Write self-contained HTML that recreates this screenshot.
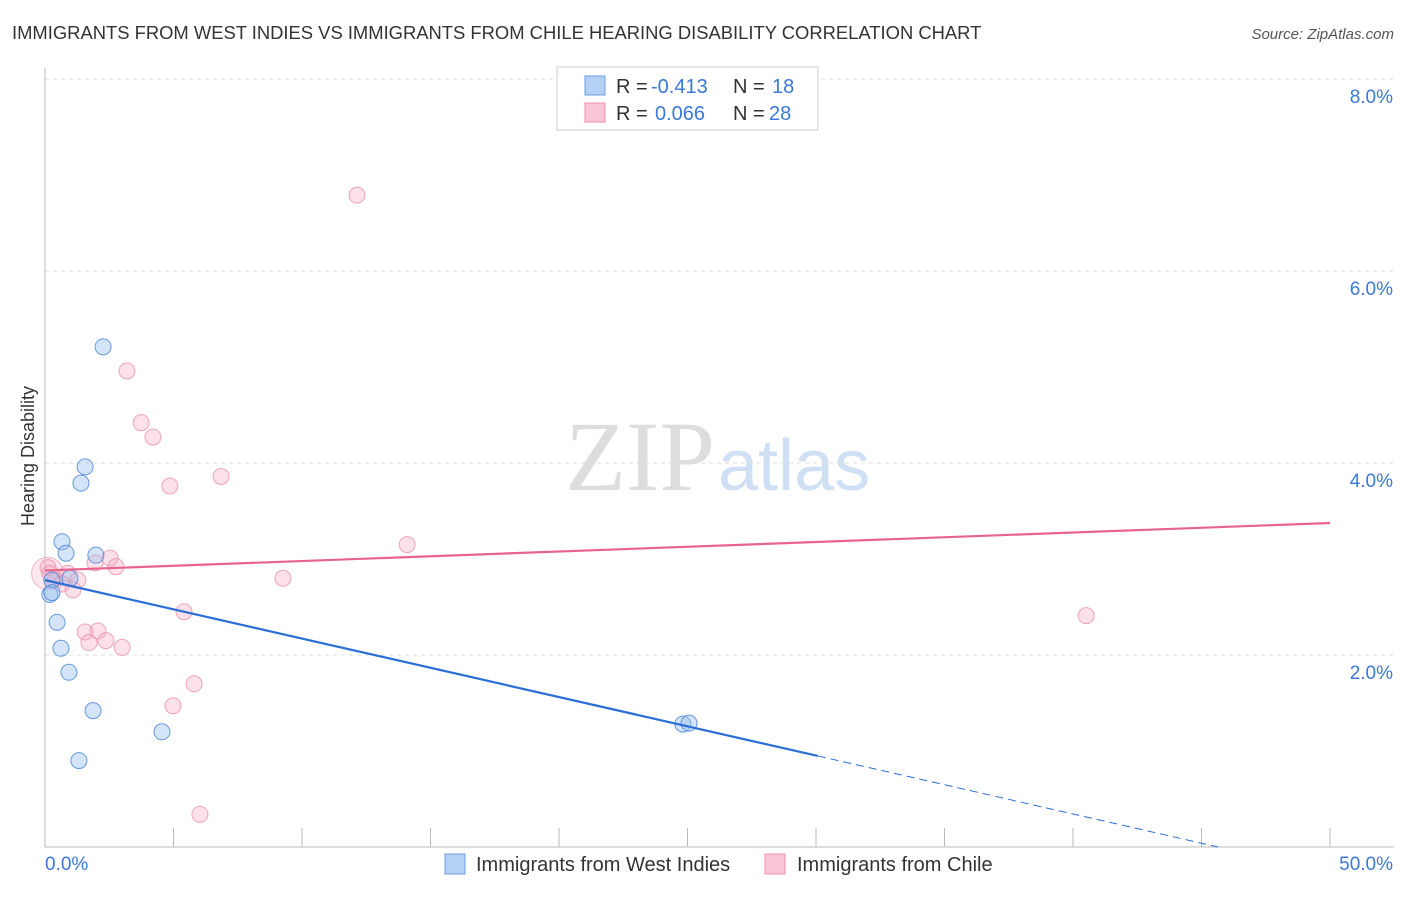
<!DOCTYPE html>
<html><head><meta charset="utf-8"><style>
body{margin:0;background:#fff;font-family:"Liberation Sans",sans-serif;}
svg text{font-family:"Liberation Sans",sans-serif;}
</style></head><body>
<svg id="c" width="1406" height="892">
<text x="12" y="39" font-size="18.4" fill="#333">IMMIGRANTS FROM WEST INDIES VS IMMIGRANTS FROM CHILE HEARING DISABILITY CORRELATION CHART</text>
<text x="1394" y="39" font-size="15" fill="#555" font-style="italic" text-anchor="end">Source: ZipAtlas.com</text>
<text x="34" y="456" font-size="18" fill="#333" transform="rotate(-90 34 456)" text-anchor="middle">Hearing Disability</text>
<text x="715" y="490" font-size="100" fill="#ddd" text-anchor="end" style="font-family:'Liberation Serif',serif">ZIP</text>
<text x="718" y="490" font-size="72" fill="#d0e0f4">atlas</text>
<g id="grid"></g><g id="axes"></g><g id="marks"></g>
<g>
<rect x="557" y="67" width="261" height="63" fill="#fff" stroke="#ccc"/>
<rect x="585" y="76" width="20" height="19" fill="#b5d0f5" stroke="#6d9de0"/>
<rect x="585" y="103" width="20" height="19" fill="#f9c6d5" stroke="#ec90ac"/>
<text x="616" y="93" font-size="20" fill="#333">R =</text>
<text x="651" y="93" font-size="20" fill="#3b78d8">-0.413</text>
<text x="733" y="93" font-size="20" fill="#333">N =</text>
<text x="772" y="93" font-size="20" fill="#3b78d8">18</text>
<text x="616" y="120" font-size="20" fill="#333">R =</text>
<text x="655" y="120" font-size="20" fill="#3b78d8">0.066</text>
<text x="733" y="120" font-size="20" fill="#333">N =</text>
<text x="769" y="120" font-size="20" fill="#3b78d8">28</text>
</g>
<g>
<rect x="445" y="854" width="20" height="20" fill="#b5d0f5" stroke="#6d9de0"/>
<text x="476" y="871" font-size="20" fill="#333">Immigrants from West Indies</text>
<rect x="765" y="854" width="20" height="20" fill="#f9c6d5" stroke="#ec90ac"/>
<text x="797" y="871" font-size="20" fill="#333">Immigrants from Chile</text>
</g>
</svg>
<script>
const xTicks=[0,5,10,15,20,25,30,35,40,45,50];
const yTicks=[2,4,6,8];
const blueX=[2.26,1.56,1.40,0.66,0.82,1.98,0.97,0.27,0.19,0.27,0.47,0.62,0.93,1.87,4.55,1.32,24.82,25.06];
const blueY=[5.21,3.96,3.79,3.18,3.06,3.04,2.80,2.78,2.63,2.65,2.34,2.07,1.82,1.42,1.20,0.90,1.28,1.29];
const pinkX=[12.14,3.19,3.74,4.20,6.85,4.86,14.09,2.53,1.95,2.76,0.12,0.89,0.39,1.28,0.66,1.09,9.26,5.41,1.56,2.06,1.71,2.37,3.00,5.80,4.98,6.03,40.51,0.19];
const pinkY=[6.79,4.96,4.42,4.27,3.86,3.76,3.15,3.01,2.96,2.92,2.91,2.85,2.78,2.78,2.74,2.68,2.80,2.45,2.24,2.25,2.13,2.15,2.08,1.70,1.47,0.34,2.41,2.85];
const blueTrend=[2.78,-0.0609];
const pinkTrend=[2.88,0.0099];
const X=v=>45+v*25.7, Y=v=>847-v*96;
const NS='http://www.w3.org/2000/svg';
function mk(p,t,a){const e=document.createElementNS(NS,t);for(const k in a)e.setAttribute(k,a[k]);p.appendChild(e);return e;}
const grid=document.getElementById('grid'),axes=document.getElementById('axes'),marks=document.getElementById('marks');
yTicks.forEach(v=>{
 const l=mk(grid,'line',{x1:45,x2:1394,y1:Y(v),y2:Y(v),stroke:'#ddd','stroke-dasharray':'4,4'});
 
 
 const t=mk(axes,'text',{x:1393,y:Y(v)+24,'font-size':19,fill:'#3b78d8','text-anchor':'end'});t.textContent=v.toFixed(1)+'%';
 
 
});
const topGrid=mk(grid,'line',{x1:45,x2:1394,y1:79,y2:79,stroke:'#ddd','stroke-dasharray':'4,4'});


const ya=mk(axes,'line',{x1:45,x2:45,y1:68,y2:847,stroke:'#bbb'});


const xa=mk(axes,'line',{x1:45,x2:1394,y1:847,y2:847,stroke:'#bbb'});


xTicks.forEach(v=>{
 const l=mk(axes,'line',{x1:X(v),x2:X(v),y1:828,y2:847,stroke:'#bbb'});
 
 
});
[[0,'start',45],[50,'end',1393]].forEach(([v,a,x])=>{
 const t=mk(axes,'text',{x:x,y:870,'font-size':19,fill:'#3b78d8','text-anchor':a});t.textContent=v.toFixed(1)+'%';
 
 
});
const big=mk(marks,'circle',{cx:X(0.1),cy:Y(2.85),r:16,fill:'rgba(240,140,170,0.2)',stroke:'rgba(236,144,172,0.6)'});


pinkX.forEach((x,i)=>{
 const c=mk(marks,'circle',{cx:X(x),cy:Y(pinkY[i]),r:8,fill:'rgba(245,170,195,0.35)',stroke:'rgba(236,144,172,0.8)'});
 
 
});
blueX.forEach((x,i)=>{
 const c=mk(marks,'circle',{cx:X(x),cy:Y(blueY[i]),r:8,fill:'rgba(150,190,240,0.4)',stroke:'rgba(70,130,215,0.8)'});
 
 
});
const bx=Math.max(...blueX)*1.2;
const bl=mk(marks,'line',{x1:X(0),y1:Y(blueTrend[0]),x2:X(bx),y2:Y(blueTrend[0]+blueTrend[1]*bx),stroke:'#2a6fd6','stroke-width':2.2});


const xe=-blueTrend[0]/blueTrend[1];
const bd=mk(marks,'line',{x1:X(bx),y1:Y(blueTrend[0]+blueTrend[1]*bx),x2:X(xe),y2:Y(0),stroke:'#2a6fd6','stroke-width':1,'stroke-dasharray':'8,5'});


const pl=mk(marks,'line',{x1:X(0),y1:Y(pinkTrend[0]),x2:X(50),y2:Y(pinkTrend[0]+pinkTrend[1]*50),stroke:'#e8648f','stroke-width':2.2});


</script>
</body></html>
